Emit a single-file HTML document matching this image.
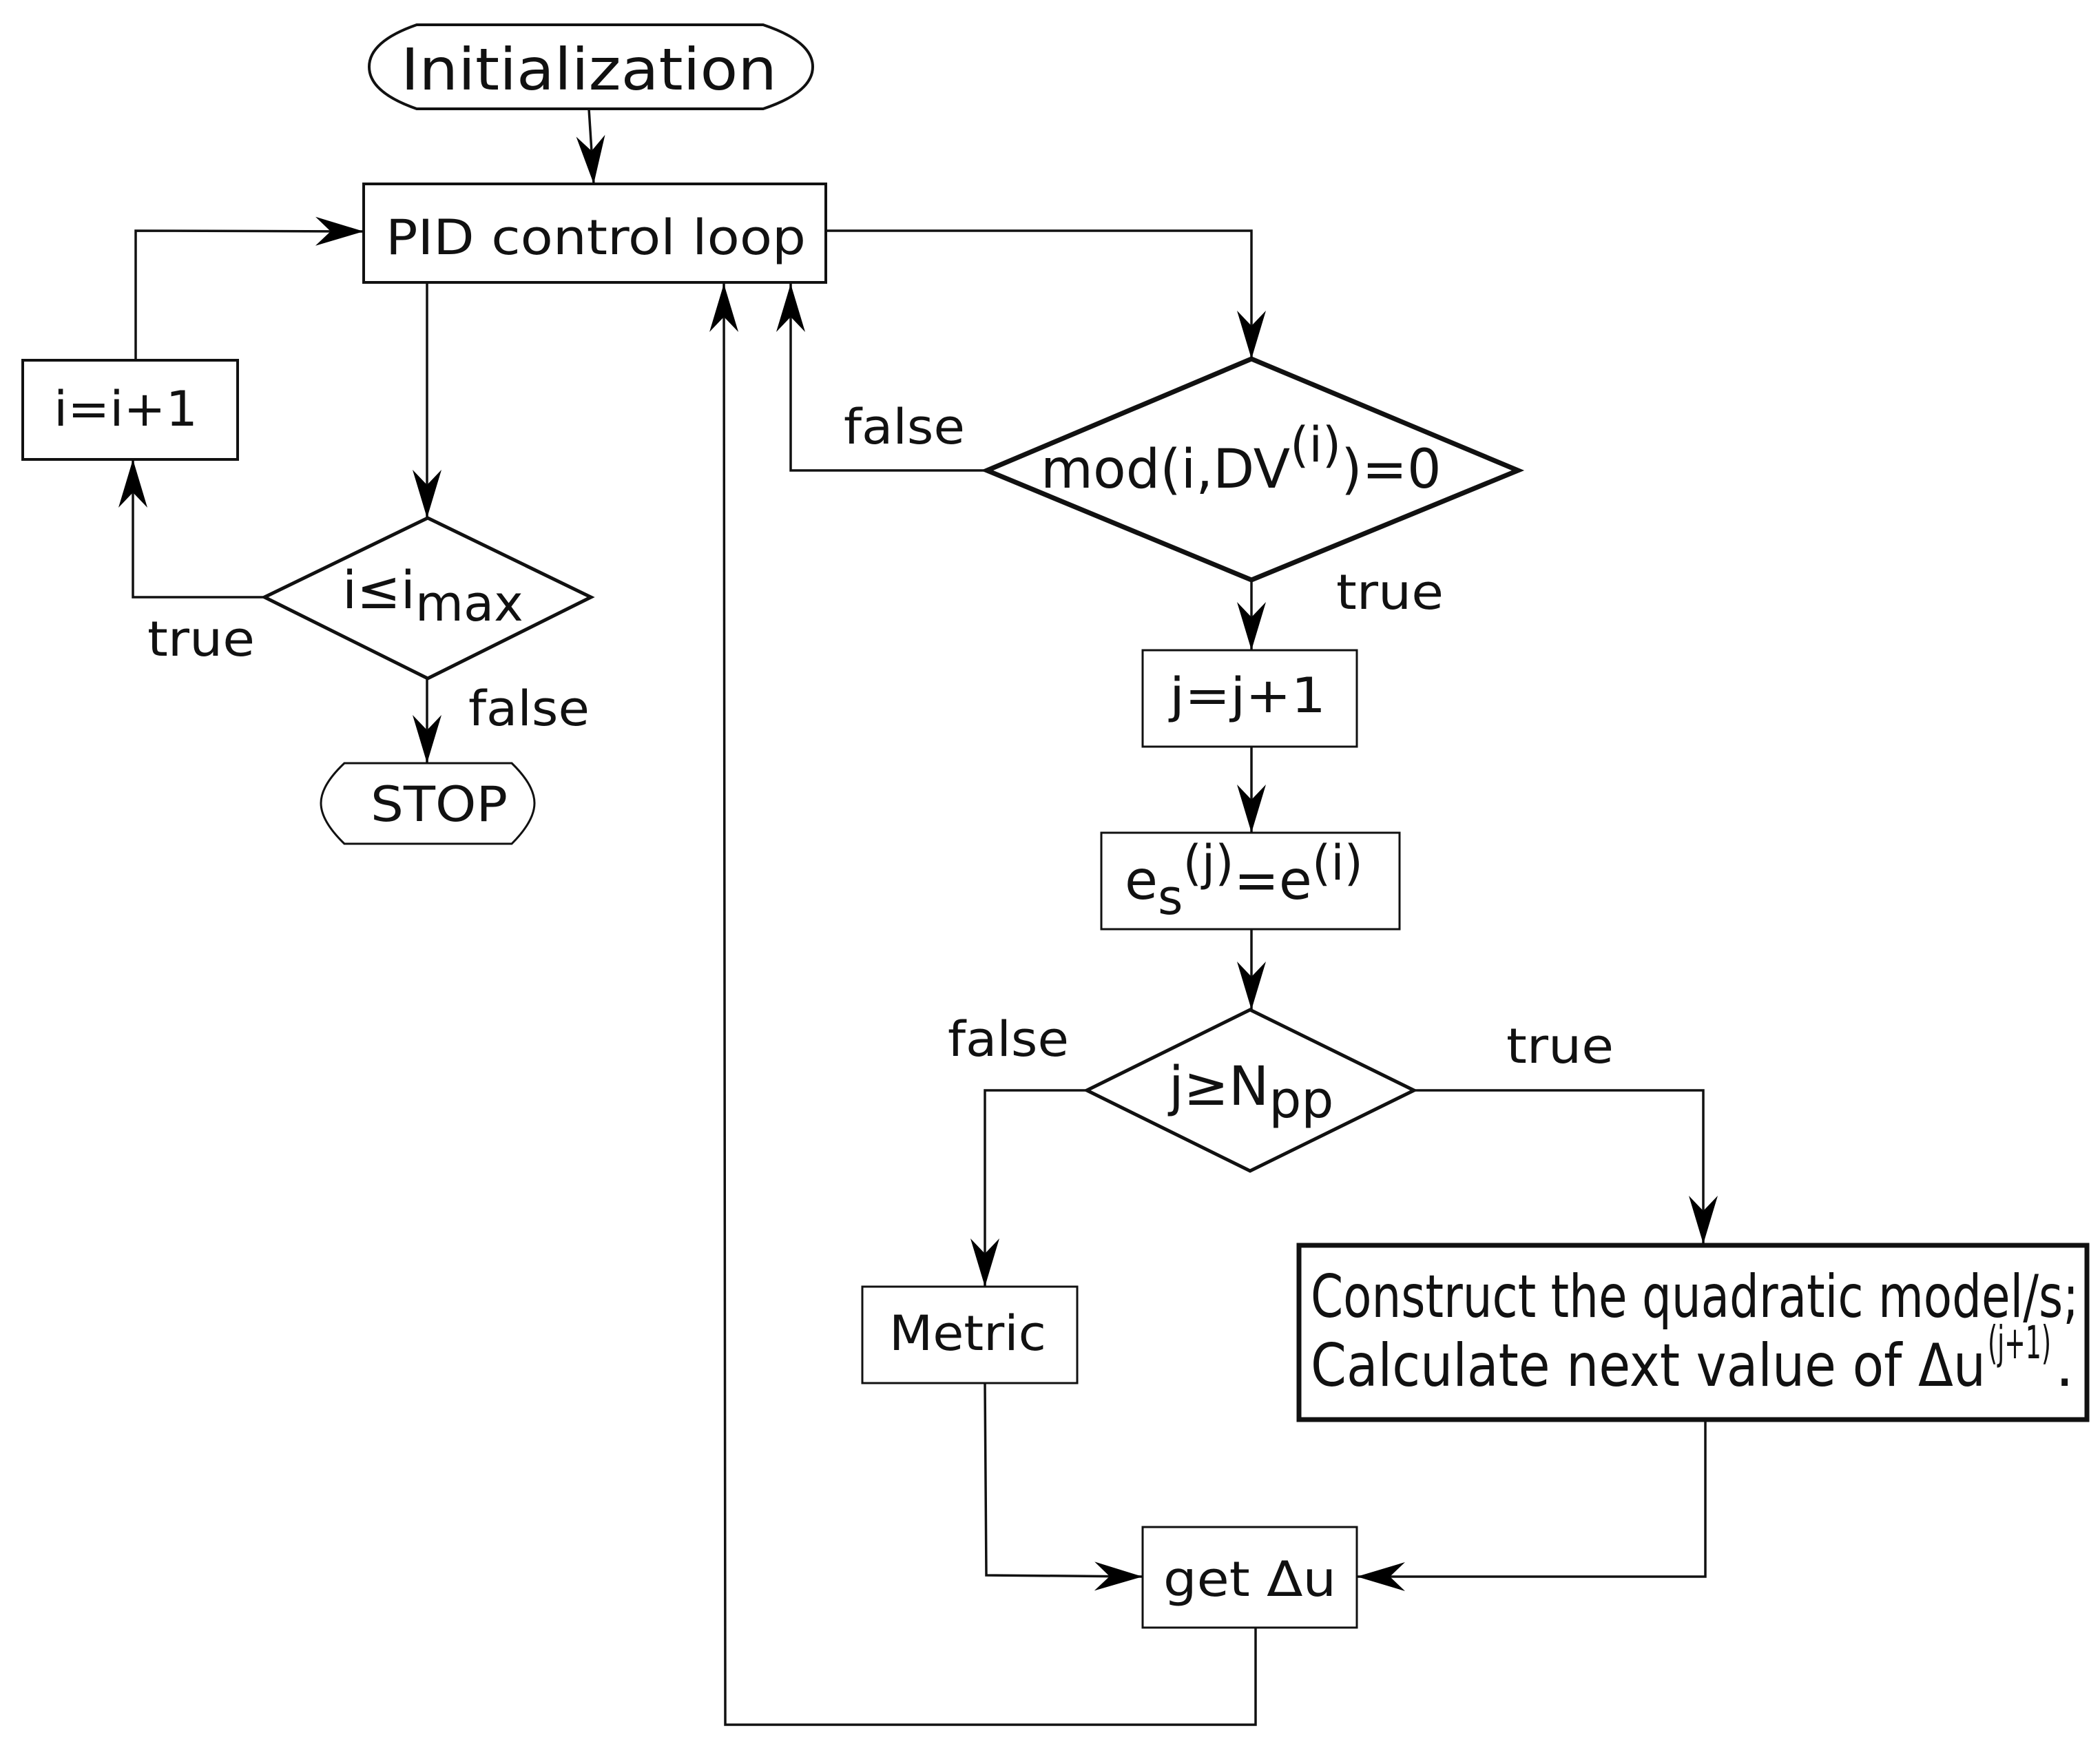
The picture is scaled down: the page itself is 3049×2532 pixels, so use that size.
<!DOCTYPE html>
<html><head><meta charset="utf-8"><style>
html,body{margin:0;padding:0;background:#fff;}
svg{display:block;}
text{font-family:"DejaVu Sans","Liberation Sans",sans-serif;fill:#111;}
</style></head><body>
<svg width="3049" height="2532" viewBox="0 0 3049 2532" xmlns="http://www.w3.org/2000/svg">
<defs>
<marker id="a" markerUnits="userSpaceOnUse" markerWidth="90" markerHeight="60" refX="0" refY="0" viewBox="-75 -30 80 60" orient="auto">
<path d="M0,0 L-70,-21 L-48,0 L-70,21 Z" fill="#000"/>
</marker>
</defs>
<g fill="none" stroke="#111" stroke-width="4">
<path d="M605,36 L1108,36 Q1180,60 1180,97 Q1180,134 1108,158 L605,158 Q536,134 536,97 Q536,60 605,36 Z" stroke-width="4"/>
<rect x="528" y="267" width="671" height="143"/>
<rect x="33" y="523" width="312" height="144"/>
<polygon points="384,867 621,752 858,867 621,985" stroke-width="5"/>
<path d="M500,1108 L743,1108 Q776,1140 776,1166 Q776,1192 743,1225 L500,1225 Q466,1192 466,1166 Q466,1140 500,1108 Z" stroke-width="3"/>
<polygon points="1433,683 1817,521 2204,683 1817,842" stroke-width="7"/>
<rect x="1659" y="944" width="311" height="140" stroke-width="3"/>
<rect x="1599" y="1209" width="433" height="140" stroke-width="3"/>
<polygon points="1578,1583 1815,1466 2053,1583 1815,1700" stroke-width="5"/>
<rect x="1252" y="1868" width="312" height="140" stroke-width="3"/>
<rect x="1886" y="1808" width="1144" height="253" stroke-width="7"/>
<rect x="1659" y="2217" width="311" height="146" stroke-width="3"/>
<g stroke-width="3.5">
<path d="M855,158 L862,267" marker-end="url(#a)"/>
<path d="M197,523 L197,335 L528,336" marker-end="url(#a)"/>
<path d="M620,410 L620,752" marker-end="url(#a)"/>
<path d="M384,867 L193,867 L193,667" marker-end="url(#a)"/>
<path d="M620,985 L620,1108" marker-end="url(#a)"/>
<path d="M1199,335 L1817,335 L1817,521" marker-end="url(#a)"/>
<path d="M1433,683 L1148,683 L1148,412" marker-end="url(#a)"/>
<path d="M1817,842 L1817,944" marker-end="url(#a)"/>
<path d="M1817,1084 L1817,1209" marker-end="url(#a)"/>
<path d="M1817,1349 L1817,1466" marker-end="url(#a)"/>
<path d="M1578,1583 L1430,1583 L1430,1868" marker-end="url(#a)"/>
<path d="M2053,1583 L2473,1583 L2473,1806" marker-end="url(#a)"/>
<path d="M1430,2008 L1432,2287 L1659,2289" marker-end="url(#a)"/>
<path d="M2476,2061 L2476,2289 L1970,2289" marker-end="url(#a)"/>
<path d="M1823,2363 L1823,2504 L1053,2504 L1051,412" marker-end="url(#a)"/>
</g>
</g>
<text x="582" y="130" font-size="84" textLength="546" lengthAdjust="spacingAndGlyphs">Initialization</text>
<text x="560" y="369" font-size="70" textLength="610" lengthAdjust="spacingAndGlyphs">PID control loop</text>
<text x="78" y="618" font-size="70" textLength="209" lengthAdjust="spacingAndGlyphs">i=i+1</text>
<text x="497" y="883" font-size="76">i≤i<tspan font-size="72" dy="18">max</tspan></text>
<text x="214" y="952" font-size="70" textLength="156" lengthAdjust="spacingAndGlyphs">true</text>
<text x="680" y="1053" font-size="70" textLength="176" lengthAdjust="spacingAndGlyphs">false</text>
<text x="538" y="1192" font-size="70" textLength="199" lengthAdjust="spacingAndGlyphs">STOP</text>
<text x="1225" y="644" font-size="70" textLength="176" lengthAdjust="spacingAndGlyphs">false</text>
<text x="1511" y="708" font-size="78">mod(i,DV<tspan font-size="70" dy="-38">(i)</tspan><tspan dy="38">)=0</tspan></text>
<text x="1940" y="884" font-size="70" textLength="156" lengthAdjust="spacingAndGlyphs">true</text>
<text x="1698" y="1034" font-size="70" textLength="227" lengthAdjust="spacingAndGlyphs">j=j+1</text>
<text x="1633" y="1305" font-size="78">e<tspan font-size="70" dy="22">s</tspan><tspan font-size="70" dy="-50">(j)</tspan><tspan dy="28">=e</tspan><tspan font-size="70" dy="-28">(i)</tspan></text>
<text x="1376" y="1533" font-size="70" textLength="176" lengthAdjust="spacingAndGlyphs">false</text>
<text x="2187" y="1543" font-size="70" textLength="156" lengthAdjust="spacingAndGlyphs">true</text>
<text x="1697" y="1604" font-size="78">j≥N<tspan font-size="74" dy="18">pp</tspan></text>
<text x="1291" y="1960" font-size="70" textLength="228" lengthAdjust="spacingAndGlyphs">Metric</text>
<text x="1903" y="1912" font-size="86" textLength="1115" lengthAdjust="spacingAndGlyphs">Construct the quadratic model/s;</text>
<text x="1903" y="2012" font-size="86" textLength="980" lengthAdjust="spacingAndGlyphs">Calculate next value of  Δu</text>
<text x="2886" y="1972" font-size="66" textLength="92" lengthAdjust="spacingAndGlyphs">(j+1)</text>
<text x="2984" y="2012" font-size="86">.</text>
<text x="1689" y="2317" font-size="70" textLength="251" lengthAdjust="spacingAndGlyphs">get Δu</text>
</svg>
</body></html>
